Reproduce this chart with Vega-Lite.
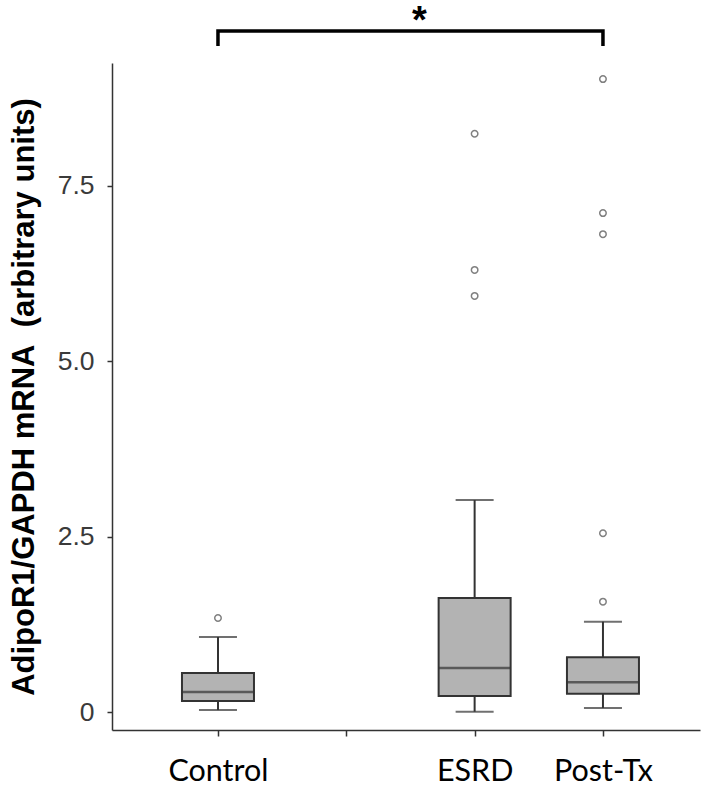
{
  "$schema": "https://vega.github.io/schema/vega-lite/v6.json",
  "autosize": "none",
  "padding": {"left": 112, "top": 63, "right": 3, "bottom": 56},
  "width": 588,
  "height": 667,
  "background": "white",
  "config": {
    "view": {"stroke": null},
    "axis": {"grid": false, "domainColor": "#333333", "domainWidth": 1.5, "tickColor": "#333333", "tickWidth": 1.5}
  },
  "datasets": {
    "boxes": [
      {"group": "Control", "lower": 0.028, "q1": 0.157, "median": 0.285, "q3": 0.556, "upper": 1.069},
      {"group": "ESRD", "lower": 0.004, "q1": 0.228, "median": 0.627, "q3": 1.625, "upper": 3.02},
      {"group": "Post-Tx", "lower": 0.057, "q1": 0.261, "median": 0.423, "q3": 0.78, "upper": 1.287}
    ],
    "outliers": [
      {"group": "Control", "value": 1.34},
      {"group": "ESRD", "value": 5.93},
      {"group": "ESRD", "value": 6.30},
      {"group": "ESRD", "value": 8.24},
      {"group": "Post-Tx", "value": 1.572},
      {"group": "Post-Tx", "value": 2.547},
      {"group": "Post-Tx", "value": 6.81},
      {"group": "Post-Tx", "value": 7.11},
      {"group": "Post-Tx", "value": 9.02}
    ],
    "bracket": [
      {"group": "Control", "value": 9.49, "step": 1},
      {"group": "Control", "value": 9.705, "step": 2},
      {"group": "Post-Tx", "value": 9.705, "step": 3},
      {"group": "Post-Tx", "value": 9.49, "step": 4}
    ],
    "sig": [
      {"group": "gap", "value": 9.676, "label": "*"}
    ]
  },
  "encoding": {
    "x": {
      "field": "group",
      "type": "nominal",
      "scale": {"type": "point", "domain": ["Control", "gap", "ESRD", "Post-Tx"], "padding": 0.791, "align": 0.522},
      "axis": {
        "title": null,
        "labelAngle": 0,
        "labelExpr": "datum.value == 'gap' ? '' : datum.value",
        "labelFont": "Lato",
        "labelFontSize": 30.5,
        "labelColor": "#000000",
        "labelPadding": 20,
        "tickSize": 6,
        "labelBaseline": "top"
      }
    }
  },
  "layer": [
    {
      "data": {"name": "boxes"},
      "mark": {"type": "rule", "color": "#333333", "strokeWidth": 2},
      "encoding": {
        "y": {
          "field": "lower",
          "type": "quantitative",
          "scale": {"domain": [-0.2565, 9.249], "nice": false, "zero": false},
          "axis": {
            "title": "AdipoR1/GAPDH mRNA\u00a0 (arbitrary units)",
            "titleFont": "Liberation Sans",
            "titleFontWeight": "bold",
            "titleFontSize": 31,
            "titleColor": "#000000",
            "titlePadding": 17,
            "values": [0, 2.5, 5, 7.5],
            "labelExpr": "datum.value == 0 ? '0' : format(datum.value, '.1f')",
            "labelFont": "Liberation Sans",
            "labelFontSize": 26.5,
            "labelColor": "#3a3a3a",
            "labelPadding": 13,
            "tickSize": 5
          }
        },
        "y2": {"field": "upper"}
      }
    },
    {
      "data": {"name": "boxes"},
      "mark": {"type": "bar", "width": 72, "fill": "#b3b3b3", "stroke": "#333333", "strokeWidth": 2},
      "encoding": {
        "y": {"field": "q1", "type": "quantitative"},
        "y2": {"field": "q3"}
      }
    },
    {
      "data": {"name": "boxes"},
      "mark": {"type": "tick", "orient": "horizontal", "size": 72, "thickness": 2.5, "color": "#333333"},
      "encoding": {
        "y": {"field": "median", "type": "quantitative"}
      }
    },
    {
      "data": {"name": "boxes"},
      "mark": {"type": "tick", "orient": "horizontal", "size": 38, "thickness": 2, "color": "#333333"},
      "encoding": {
        "y": {"field": "upper", "type": "quantitative"}
      }
    },
    {
      "data": {"name": "boxes"},
      "mark": {"type": "tick", "orient": "horizontal", "size": 38, "thickness": 2, "color": "#333333"},
      "encoding": {
        "y": {"field": "lower", "type": "quantitative"}
      }
    },
    {
      "data": {"name": "outliers"},
      "mark": {"type": "point", "shape": "circle", "filled": false, "stroke": "#808080", "strokeWidth": 1.5, "size": 42, "opacity": 1},
      "encoding": {
        "y": {"field": "value", "type": "quantitative"}
      }
    },
    {
      "data": {"name": "bracket"},
      "mark": {"type": "line", "color": "#000000", "strokeWidth": 3.5, "strokeJoin": "miter", "clip": false},
      "encoding": {
        "y": {"field": "value", "type": "quantitative"},
        "order": {"field": "step"}
      }
    },
    {
      "data": {"name": "sig"},
      "mark": {"type": "text", "font": "Liberation Sans", "fontWeight": "bold", "fontSize": 38, "baseline": "alphabetic", "align": "center", "dx": 73, "color": "#000000"},
      "encoding": {
        "y": {"field": "value", "type": "quantitative"},
        "text": {"field": "label"}
      }
    }
  ]
}
